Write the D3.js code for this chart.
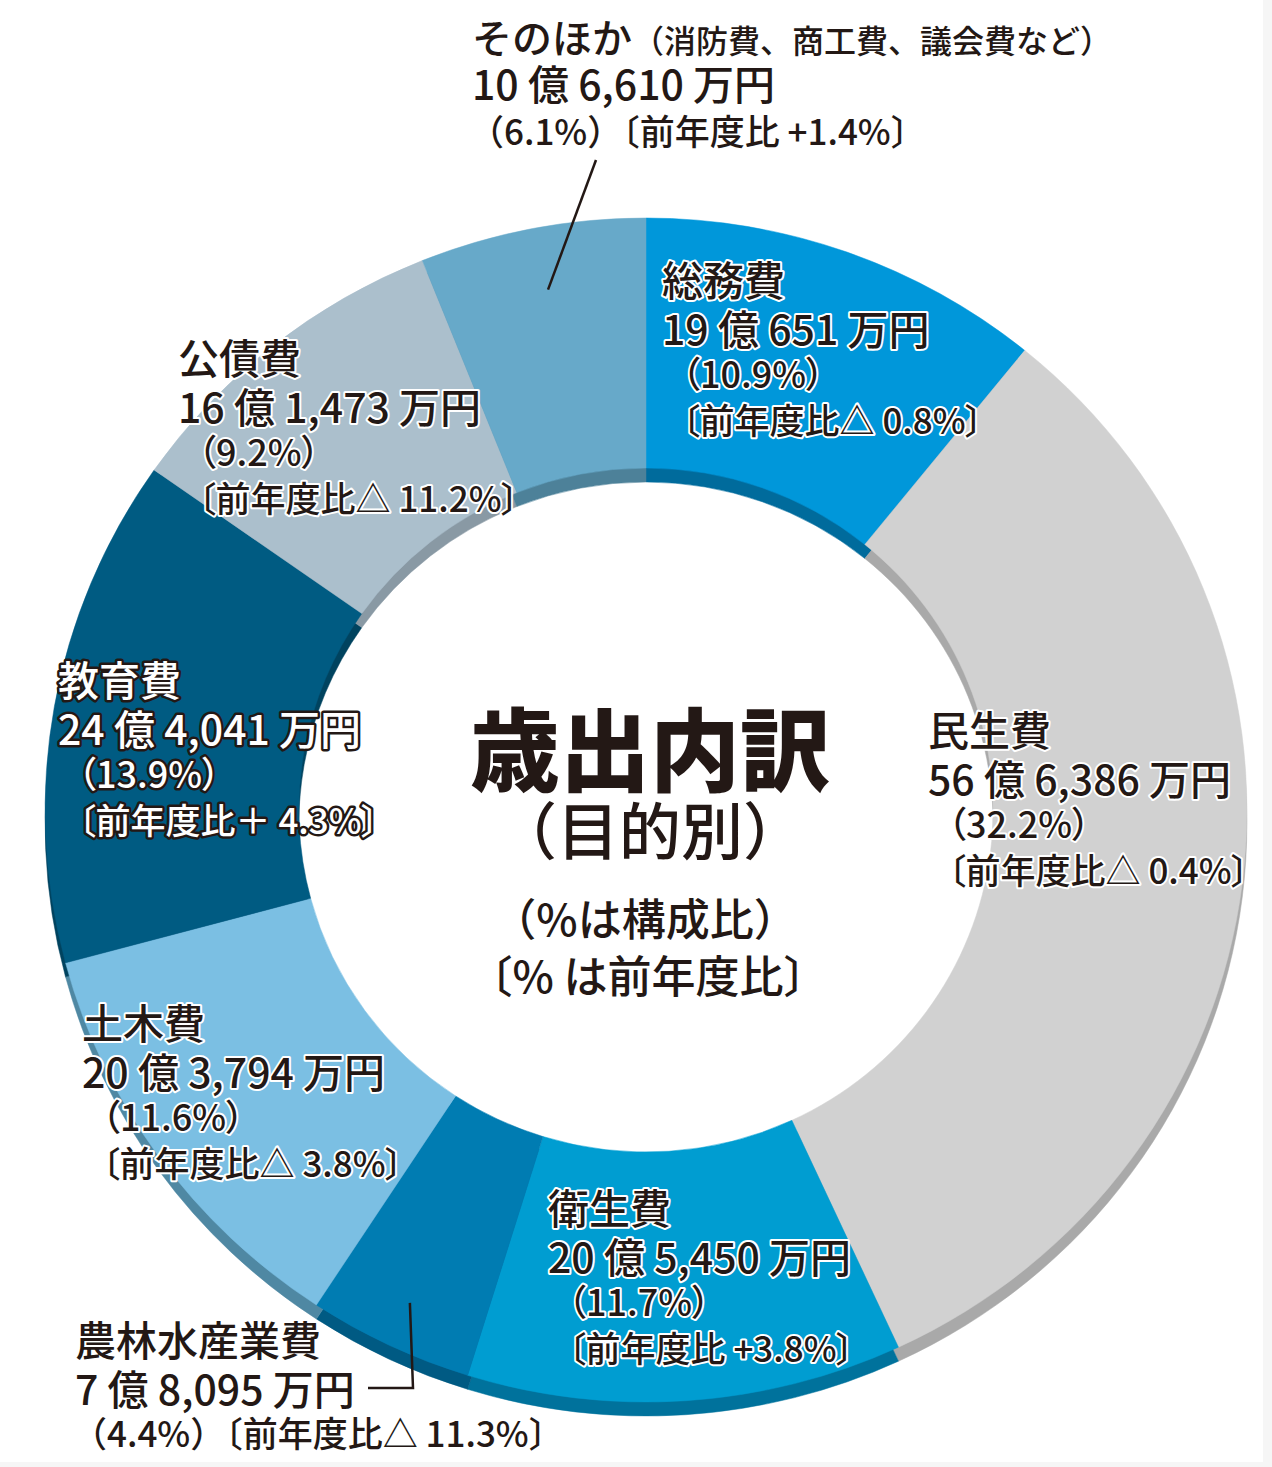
<!DOCTYPE html>
<html>
<head>
<meta charset="utf-8">
<script src="https://cdn.jsdelivr.net/npm/d3@7"></script>
<style>
  body { margin: 0; background: #fff; }
  svg text { font-family: "Noto Sans CJK JP", "Noto Sans", sans-serif; }
  svg text.palt { font-feature-settings: "palt"; }
</style>
</head>
<body>
<script>
// 歳出内訳（目的別）
const categories = ['総務費', '民生費', '衛生費', '農林水産業費', '土木費', '教育費', '公債費', 'そのほか'];
const okuValues = [19, 56, 20, 7, 20, 24, 16, 10];
const manValues = [651, 6386, 5450, 8095, 3794, 4041, 1473, 6610];
const shares = [10.9, 32.2, 11.7, 4.4, 11.6, 13.9, 9.2, 6.1];
const changes = ['△ 0.8', '△ 0.4', ' +3.8', '△ 11.3', '△ 3.8', '＋ 4.3', '△ 11.2', ' +1.4'];

const colors = ['#0097da', '#d1d1d1', '#009dd1', '#007cb2', '#7bbfe3', '#005b82', '#abbfcc', '#67a9c9'];
const shadowColors = ['#006b9c', '#a9a9a9', '#00729c', '#005a83', '#4f88a3', '#00435f', '#8999a4', '#4d8199'];

const width = 1272, height = 1467;
const cx = 646, cy = 810;
const outerR = 592, innerR = 342, depth = 14;

const data = categories.map((c, i) => ({
    name: c,
    value: okuValues[i] * 10000 + manValues[i],
    oku: okuValues[i],
    man: manValues[i],
    share: shares[i],
    change: changes[i],
    color: colors[i],
    shadow: shadowColors[i]
}));

const svg = d3.select('body')
    .append('svg')
    .attr('width', width)
    .attr('height', height);

// faint frame like the scanned page
svg.append('rect').attr('width', width).attr('height', height).attr('fill', '#f6f6f6');
svg.append('rect').attr('width', 1263).attr('height', 1462).attr('fill', '#fff');

const pie = d3.pie().sort(null).value(d => d.value);
const arcs = pie(data);
const arc = d3.arc().innerRadius(innerR).outerRadius(outerR);

const ring = svg.append('g')
    .attr('transform', `translate(${cx},${cy}) scale(1.015,1)`);

// extruded side, drawn lower
ring.append('g')
    .attr('transform', `translate(0,${depth})`)
    .selectAll('path')
    .data(arcs)
    .enter()
    .append('path')
    .attr('d', arc)
    .attr('fill', d => d.data.shadow)
    .attr('stroke', d => d.data.shadow)
    .attr('stroke-width', 0.5);

ring.append('g')
    .selectAll('path')
    .data(arcs)
    .enter()
    .append('path')
    .attr('d', arc)
    .attr('fill', d => d.data.color)
    .attr('stroke', d => d.data.color)
    .attr('stroke-width', 0.5);

// leader lines
const pointOn = (name, r) => {
    const a = arcs.find(d => d.data.name === name);
    const m = (a.startAngle + a.endAngle) / 2;
    return [cx + Math.sin(m) * r * 1.015, cy - Math.cos(m) * r];
};
const line = d3.line();
const p1 = pointOn('そのほか', 530);
svg.append('path')
    .attr('d', line([[596, 160], [p1[0] + 4, p1[1]]]))
    .attr('stroke', '#231815').attr('stroke-width', 2.5).attr('fill', 'none');
const p2 = pointOn('農林水産業費', 545);
svg.append('path')
    .attr('d', line([[368, 1388], [413, 1388], p2]))
    .attr('stroke', '#231815').attr('stroke-width', 2.5).attr('fill', 'none');

// label layout
const labelPos = {
    '総務費': { x: 662, y: 296, style: 'halo' },
    '民生費': { x: 928, y: 746, style: 'halo' },
    '衛生費': { x: 548, y: 1224, style: 'halo' },
    '土木費': { x: 82, y: 1039, style: 'halo' },
    '教育費': { x: 58, y: 696, style: 'dark' },
    '公債費': { x: 178, y: 374, style: 'halo' },
    '農林水産業費': { x: 75, y: 1356, style: 'plain' },
    'そのほか': { x: 472, y: 53, style: 'plain' }
};

const fmt = d3.format(',');
const ink = '#231815';

function addText(g, str, x, y, size, style, palt) {
    const t = g.append('text')
        .attr('class', palt ? 'palt' : null)
        .attr('x', x)
        .attr('y', y)
        .attr('font-size', size)
        .attr('font-weight', 500)
        .text(str);
    if (style === 'halo') {
        t.attr('fill', ink).attr('stroke', '#fff').attr('stroke-width', 4)
            .attr('stroke-linejoin', 'round').attr('paint-order', 'stroke');
    } else if (style === 'dark') {
        t.attr('fill', '#fff').attr('stroke', ink).attr('stroke-width', 5)
            .attr('stroke-linejoin', 'round').attr('paint-order', 'stroke');
    } else {
        t.attr('fill', ink);
    }
    return t;
}

const labels = svg.append('g');
data.forEach(d => {
    const p = labelPos[d.name];
    const amount = `${d.oku} 億 ${fmt(d.man)} 万円`;
    if (d.name === 'そのほか') {
        const t = addText(labels, d.name, p.x, p.y, 40, p.style, false);
        t.append('tspan').attr('font-size', 32).text('（消防費、商工費、議会費など）');
        addText(labels, amount, p.x, p.y + 47, 41, p.style, true);
        addText(labels, `（${d.share}%）〔前年度比${d.change}%〕`, p.x - 3, p.y + 92, 35, p.style, false);
    } else if (d.name === '農林水産業費') {
        addText(labels, d.name, p.x, p.y, 41, p.style, true);
        addText(labels, amount, p.x, p.y + 49, 41, p.style, true);
        addText(labels, `（${d.share}%）〔前年度比${d.change}%〕`, p.x - 3, p.y + 91, 35, p.style, false);
    } else {
        addText(labels, d.name, p.x, p.y, 41, p.style, true);
        addText(labels, amount, p.x, p.y + 49, 41, p.style, true);
        addText(labels, `（${d.share}%）`, p.x + 20, p.y + 92, 36, p.style, true);
        addText(labels, `〔前年度比${d.change}%〕`, p.x + 20, p.y + 138, 35, p.style, true);
    }
});

// center title
const center = svg.append('g').attr('text-anchor', 'middle').attr('fill', ink);
center.append('text').attr('x', 650).attr('y', 784)
    .attr('font-size', 90).attr('font-weight', 900).text('歳出内訳');
center.append('text').attr('x', 650).attr('y', 855)
    .attr('font-size', 62).attr('font-weight', 500).text('（目的別）');
center.append('text').attr('x', 645).attr('y', 936)
    .attr('font-size', 44).attr('font-weight', 500).text('（%は構成比）');
center.append('text').attr('x', 648).attr('y', 993)
    .attr('font-size', 44).attr('font-weight', 500).text('〔% は前年度比〕');
</script>
</body>
</html>
